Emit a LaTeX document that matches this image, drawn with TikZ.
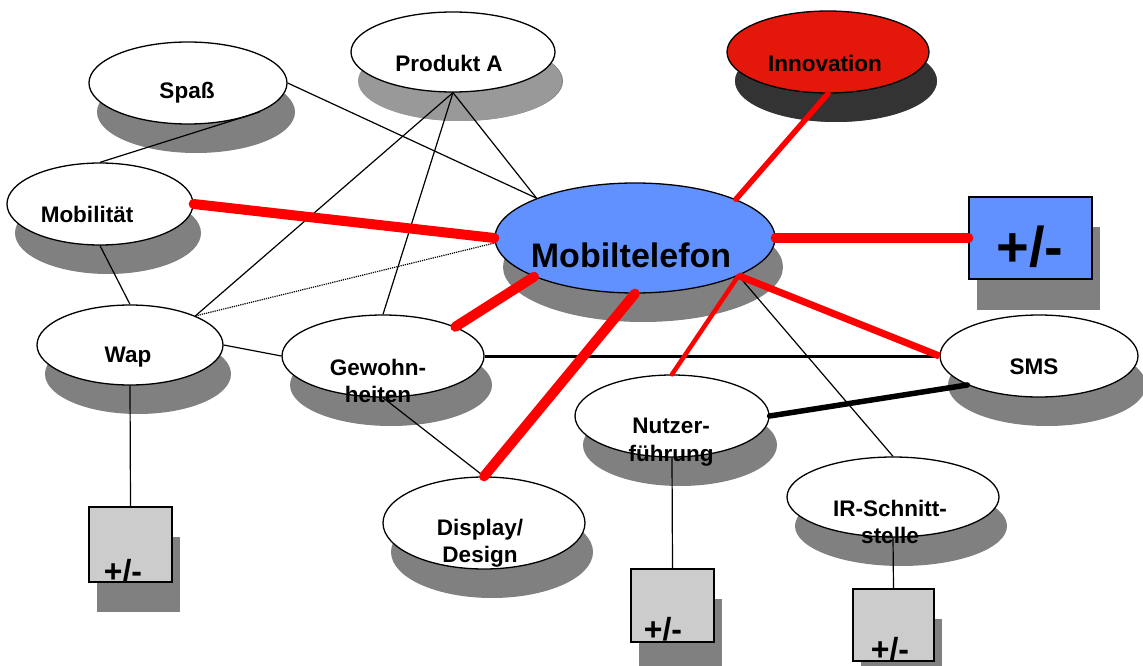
\documentclass[tikz,border=0pt]{standalone}
\usepackage{fontspec}
\setmainfont{Liberation Sans}
\usetikzlibrary{shapes.geometric,shadows,calc}
\definecolor{shade}{HTML}{808080}
\definecolor{shadelight}{HTML}{999999}
\definecolor{shadedark}{HTML}{333333}
\definecolor{phoneblue}{HTML}{6190FF}
\definecolor{innored}{HTML}{E3170A}
\definecolor{boxgray}{HTML}{CCCCCC}
\tikzset{
  oval/.style={ellipse, draw=black, line width=1.3pt, fill=white, inner sep=0pt,
    drop shadow={shadow xshift=8pt, shadow yshift=-29pt, opacity=1, fill=shade, draw=none}},
  pmbox/.style={rectangle, draw=black, line width=1.3pt, fill=boxgray, inner sep=0pt,
    drop shadow={shadow xshift=8pt, shadow yshift=-30pt, opacity=1, fill=shade, draw=none}},
  pmtext/.style={font=\bfseries\fontsize{32}{32}\selectfont, inner sep=0pt},
  thin/.style={line width=1.2pt, black},
  redthick/.style={line width=10pt, red, line cap=round},
  redmid/.style={line width=5.5pt, red, line cap=round},
  lbl/.style={font=\bfseries\fontsize{22.5}{27.5}\selectfont, align=center, inner sep=0pt},
}
\begin{document}
\begin{tikzpicture}[x=1pt, y=-1pt]
\useasboundingbox (0,0) rectangle (1143,666);
% ellipses
\node[oval, minimum width=198pt, minimum height=82pt] (spass) at (188,83) {};
\node[oval, minimum width=204pt, minimum height=80pt,
  drop shadow={shadow xshift=7pt, shadow yshift=-29pt, opacity=1, fill=shadelight, draw=none}] (prod) at (453,52) {};
\node[oval, fill=innored, minimum width=202pt, minimum height=82pt,
  drop shadow={shadow xshift=8pt, shadow yshift=-29pt, opacity=1, fill=shadedark, draw=none}] (inno) at (828,52) {};
\node[oval, minimum width=186pt, minimum height=82pt] (mob) at (100,204) {};
\node[oval, fill=phoneblue, minimum width=280pt, minimum height=110pt] (phone) at (635,238) {};
\node[oval, minimum width=186pt, minimum height=80pt] (wap) at (130,345) {};
\node[oval, minimum width=202pt, minimum height=82pt] (gew) at (383,356) {};
\node[oval, minimum width=198pt, minimum height=82pt] (sms) at (1039,356) {};
\node[oval, minimum width=194pt, minimum height=82pt] (nutz) at (672,416) {};
\node[oval, minimum width=212pt, minimum height=80pt] (ir) at (893,497) {};
\node[oval, minimum width=202pt, minimum height=92pt] (disp) at (484,523) {};
% boxes
\node[pmbox, fill=phoneblue, minimum width=123pt, minimum height=82pt,
  drop shadow={shadow xshift=8pt, shadow yshift=-31pt, opacity=1, fill=shade, draw=none}] (bigbox) at (1030.5,238) {};
\node[pmbox, minimum width=83pt, minimum height=75pt] (wapbox) at (130.5,544.5) {};
\node[pmbox, minimum width=83pt, minimum height=73pt] (nutzbox) at (672.5,605.5) {};
\node[pmbox, minimum width=81pt, minimum height=72pt] (irbox) at (893.5,625) {};
% thin connectors
\draw[thin] (spass.338) -- (mob.north);
\draw[thin] (spass.east) -- (phone.158);
\draw[thin] (prod.south) -- (phone.158);
\draw[thin] (prod.south) -- (wap.24);
\draw[thin] (prod.south) -- (gew.north);
\draw[thin] (mob.south) -- (wap.north);
\draw[line width=1.2pt, densely dotted] (wap.24) -- (phone.182);
\draw[thin] (wap.east) -- (gew.west);
\draw[thin] (gew.south) -- (disp.north);
\draw[thin] (phone.340) -- (ir.north);
\draw[thin] (wap.south) -- (wapbox.north);
\draw[thin] (nutz.south) -- (nutzbox.north);
\draw[thin] (ir.south) -- (irbox.north);
\draw[line width=3pt] (gew.east) -- (sms.west);
\draw[line width=5.5pt, line cap=round] (nutz.east) -- (sms.202);
% red connectors
\draw[redthick] (mob.east) -- (phone.west);
\draw[redmid] (inno.south) -- (phone.21);
\draw[redthick] (phone.east) -- (bigbox.west);
\draw[redthick] (phone.201) -- (gew.22);
\draw[redthick] (phone.south) -- (disp.north);
\draw[line width=4.5pt, red, line cap=round] (phone.340) -- (nutz.north);
\draw[line width=7pt, red] (phone.340) -- (sms.west);
% labels
\node[lbl] (t-spass) at (187,93) {Spaß};
\node[lbl] (t-prod) at (449,63) {Produkt A};
\node[lbl] (t-inno) at (825,63) {Innovation};
\node[lbl] (t-mob) at (87,214) {Mobilität};
\node[lbl, font=\bfseries\fontsize{34}{34}\selectfont] (t-phone) at (631,255) {Mobiltelefon};
\node[lbl] (t-wap) at (128,357) {Wap};
\node[lbl] (t-gew) at (378,381) {Gewohn-\\heiten};
\node[lbl] (t-sms) at (1034,367) {SMS};
\node[lbl] (t-nutz) at (671,442) {Nutzer-\\führung};
\node[lbl] (t-ir) at (890,522) {IR-Schnitt-\\stelle};
\node[lbl] (t-disp) at (480,543) {Display/\\Design};
\node[pmtext, font=\bfseries\fontsize{56}{56}\selectfont] (t-big) at (1030,247) {+/-};
\node[pmtext] (t-wapbox) at (123,571) {+/-};
\node[pmtext] (t-nutzbox) at (663,629) {+/-};
\node[pmtext] (t-irbox) at (890,649) {+/-};
\end{tikzpicture}
\end{document}
